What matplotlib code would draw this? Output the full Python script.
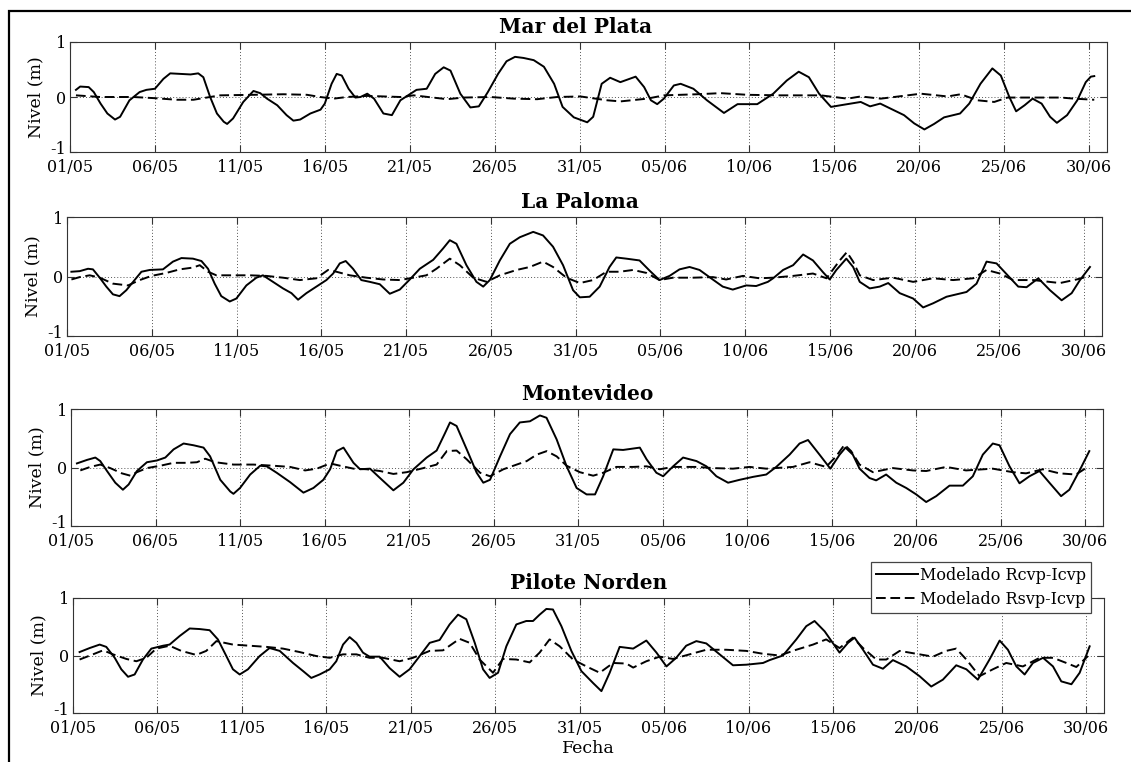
import matplotlib
matplotlib.use("Agg")
import matplotlib.pyplot as plt
import matplotlib.transforms as mtransforms
from matplotlib.patches import Rectangle
from matplotlib.lines import Line2D

plt.rcParams['font.family'] = ['DejaVu Serif']

# ---------------- data (day 0 = 01/05 00:00) ----------------
tick_days = [0, 5, 10, 15, 20, 25, 30, 35, 40, 45, 50, 55, 60]
tick_labels = ['01/05', '06/05', '11/05', '16/05', '21/05', '26/05', '31/05',
               '05/06', '10/06', '15/06', '20/06', '25/06', '30/06']
stations = ['Mar del Plata', 'La Paloma', 'Montevideo', 'Pilote Norden']
series_labels = ['Modelado Rcvp-Icvp', 'Modelado Rsvp-Icvp']

# Mar del Plata
mdp_rcvp_dia = [0.35, 0.6, 1.1, 1.4, 1.8, 2.2, 2.65, 2.95, 3.5, 4.1, 4.5, 5.0, 5.5, 5.9, 6.5, 7.1, 7.55, 7.85,
                8.25, 8.65, 9.05, 9.25, 9.6, 10.2, 10.8, 11.2, 11.6, 12.2, 12.75, 13.15, 13.55, 14.15, 14.75,
                15.0, 15.4, 15.7, 16.0, 16.4, 16.8, 17.1, 17.5, 17.9, 18.45, 18.95, 19.45, 19.9, 20.4, 21.0,
                21.5, 22.0, 22.4, 22.98, 23.57, 24.07, 24.6, 25.2, 25.7, 26.2, 26.7, 27.3, 27.9, 28.5, 29.0,
                29.66, 30.45, 30.8, 31.3, 31.8, 32.4, 33.3, 33.8, 34.2, 34.57, 34.96, 35.55, 35.95, 36.7, 37.5,
                38.5, 39.3, 40.46, 41.4, 42.2, 42.9, 43.5, 44.1, 44.8, 45.37, 45.96, 46.55, 47.1, 47.7, 48.5,
                49.1, 49.7, 50.3, 50.87, 51.46, 52.4, 52.94, 53.6, 54.3, 54.8, 55.3, 55.7, 56.2, 56.67, 57.2,
                57.7, 58.1, 58.7, 59.3, 59.8, 60.1, 60.3]
mdp_rcvp_nivel = [0.13, 0.19, 0.18, 0.09, -0.12, -0.30, -0.41, -0.36, -0.06, 0.09, 0.13, 0.15, 0.33, 0.43, 0.42,
                  0.41, 0.43, 0.36, 0.0, -0.30, -0.45, -0.49, -0.39, -0.09, 0.11, 0.07, -0.03, -0.15, -0.33,
                  -0.43, -0.41, -0.30, -0.23, -0.12, 0.24, 0.42, 0.39, 0.15, -0.01, 0.0, 0.06, -0.03, -0.30,
                  -0.33, -0.06, 0.03, 0.13, 0.15, 0.42, 0.54, 0.48, 0.06, -0.19, -0.17, 0.09, 0.42, 0.65, 0.73,
                  0.71, 0.67, 0.55, 0.24, -0.18, -0.37, -0.46, -0.36, 0.24, 0.35, 0.27, 0.37, 0.18, -0.06,
                  -0.13, -0.03, 0.21, 0.24, 0.15, -0.06, -0.29, -0.13, -0.13, 0.06, 0.30, 0.46, 0.36, 0.06,
                  -0.18, -0.15, -0.12, -0.09, -0.17, -0.12, -0.24, -0.33, -0.48, -0.59, -0.49, -0.37, -0.30,
                  -0.12, 0.24, 0.52, 0.39, 0.0, -0.26, -0.15, -0.03, -0.12, -0.36, -0.47, -0.33, -0.06, 0.27,
                  0.37, 0.38]
mdp_rsvp_dia = [0.35, 1.77, 3.73, 4.91, 6.29, 7.27, 8.05, 8.84, 10.8, 12.57, 13.95, 14.73, 15.52, 16.3, 17.5,
                19.45, 20.23, 22.2, 23.18, 24.75, 26.13, 27.5, 28.68, 30.05, 31.62, 32.41, 33.98, 34.97, 36.93,
                38.3, 39.87, 41.84, 42.62, 44.2, 44.98, 45.77, 46.55, 47.73, 48.52, 50.09, 51.66, 52.44, 53.43,
                54.41, 55.19, 56.37, 58.33, 59.12, 60.3]
mdp_rsvp_nivel = [0.03, 0.0, 0.0, -0.02, -0.05, -0.05, -0.01, 0.03, 0.04, 0.05, 0.04, 0.0, -0.03, 0.0, 0.02,
                  0.0, 0.03, -0.04, -0.01, 0.0, -0.03, -0.04, 0.0, 0.01, -0.06, -0.08, -0.03, 0.03, 0.05, 0.07,
                  0.04, 0.03, 0.03, 0.03, 0.0, -0.03, 0.01, -0.03, 0.0, 0.06, 0.01, 0.05, -0.06, -0.09, -0.01,
                  -0.01, -0.01, -0.03, -0.05]

# La Paloma
lp_rcvp_dia = [0.26, 0.75, 1.24, 1.53, 1.93, 2.32, 2.71, 3.1, 3.5, 3.9, 4.39, 4.88, 5.66, 6.25, 6.75, 7.43, 7.93,
               8.32, 8.71, 9.1, 9.6, 9.99, 10.58, 11.17, 11.56, 12.15, 12.74, 13.24, 13.63, 14.12, 14.71, 15.3,
               15.7, 16.09, 16.44, 16.87, 17.36, 17.86, 18.45, 19.04, 19.63, 20.22, 20.81, 21.6, 22.18, 22.58,
               22.97, 23.56, 24.15, 24.55, 24.94, 25.53, 26.12, 26.71, 27.5, 28.08, 28.67, 29.26, 29.85, 30.25,
               30.83, 31.42, 32.0, 32.4, 32.99, 33.77, 34.36, 34.95, 35.54, 36.13, 36.72, 37.31, 38.09, 38.68,
               39.27, 40.06, 40.65, 41.34, 41.65, 42.24, 42.83, 43.42, 44.0, 44.6, 44.99, 45.38, 45.97, 46.37,
               46.76, 47.35, 47.94, 48.44, 49.12, 49.91, 50.5, 51.09, 51.88, 53.06, 53.65, 54.24, 54.83, 55.42,
               56.11, 56.6, 57.29, 57.98, 58.67, 59.26, 59.75, 60.34]
lp_rcvp_nivel = [0.08, 0.09, 0.13, 0.12, -0.02, -0.17, -0.30, -0.33, -0.23, -0.09, 0.08, 0.11, 0.12, 0.25, 0.31,
                 0.30, 0.26, 0.13, -0.12, -0.33, -0.42, -0.37, -0.15, -0.02, 0.02, -0.09, -0.20, -0.28, -0.39,
                 -0.28, -0.17, -0.06, 0.05, 0.22, 0.26, 0.13, -0.06, -0.09, -0.13, -0.29, -0.22, -0.05, 0.13,
                 0.28, 0.47, 0.61, 0.55, 0.19, -0.09, -0.17, -0.06, 0.27, 0.55, 0.66, 0.75, 0.69, 0.50, 0.19,
                 -0.23, -0.35, -0.34, -0.17, 0.16, 0.32, 0.30, 0.27, 0.10, -0.06, 0.01, 0.12, 0.16, 0.11, -0.05,
                 -0.17, -0.22, -0.15, -0.16, -0.09, -0.03, 0.11, 0.19, 0.37, 0.27, 0.07, -0.05, 0.11, 0.30, 0.16,
                 -0.09, -0.20, -0.17, -0.11, -0.28, -0.37, -0.52, -0.45, -0.34, -0.26, -0.12, 0.25, 0.22, 0.04,
                 -0.17, -0.18, -0.03, -0.23, -0.40, -0.28, -0.06, 0.16]
lp_rsvp_dia = [0.26, 0.75, 1.34, 1.93, 2.71, 3.6, 4.29, 4.98, 5.86, 6.65, 7.43, 7.83, 8.32, 8.81, 9.79, 10.78,
               11.76, 12.74, 13.73, 14.71, 15.4, 15.89, 16.68, 17.66, 18.64, 19.63, 20.42, 21.2, 21.79, 22.58,
               23.17, 23.96, 24.75, 25.53, 26.52, 27.3, 28.08, 28.67, 29.46, 30.25, 31.03, 31.82, 32.6, 33.39,
               34.18, 34.95, 35.74, 36.92, 38.1, 38.88, 39.87, 40.85, 41.65, 42.83, 44.0, 44.8, 45.58, 46.0,
               46.37, 46.76, 47.55, 48.73, 49.91, 51.09, 52.27, 53.45, 54.24, 55.03, 55.81, 56.99, 58.57, 59.55,
               60.34]
lp_rsvp_nivel = [-0.05, -0.01, 0.02, -0.02, -0.12, -0.15, -0.06, 0.01, 0.06, 0.12, 0.15, 0.19, 0.08, 0.02, 0.02,
                 0.02, 0.01, -0.02, -0.06, -0.03, 0.11, 0.08, 0.02, -0.02, -0.05, -0.06, -0.02, 0.02, 0.13, 0.30,
                 0.19, -0.02, -0.09, 0.02, 0.11, 0.16, 0.25, 0.16, -0.02, -0.11, -0.06, 0.08, 0.08, 0.11, 0.06,
                 -0.06, -0.02, -0.02, -0.01, -0.05, 0.01, -0.03, -0.02, 0.01, 0.05, -0.03, 0.27, 0.41, 0.25, 0.02,
                 -0.06, -0.02, -0.09, -0.03, -0.06, -0.03, 0.11, 0.05, -0.06, -0.06, -0.11, -0.05, 0.01]

# Montevideo
mv_rcvp_dia = [0.35, 0.95, 1.44, 1.73, 2.13, 2.62, 3.07, 3.41, 3.9, 4.49, 5.08, 5.58, 6.07, 6.66, 7.25, 7.84, 8.23,
               8.83, 9.42, 9.61, 10.0, 10.6, 11.19, 11.58, 12.17, 12.96, 13.75, 14.34, 14.93, 15.33, 15.72, 16.12,
               16.71, 17.1, 17.69, 18.28, 19.07, 19.66, 20.26, 21.04, 21.63, 22.13, 22.42, 22.81, 23.41, 24.0,
               24.39, 24.79, 25.38, 25.97, 26.55, 27.15, 27.74, 28.13, 28.73, 29.32, 29.91, 30.5, 31.0, 31.48,
               32.08, 32.66, 33.65, 34.05, 34.63, 35.03, 35.62, 36.21, 37.0, 37.59, 38.18, 38.87, 39.56, 40.35,
               41.13, 41.72, 42.51, 43.1, 43.6, 44.28, 44.92, 45.47, 45.82, 46.25, 46.65, 47.24, 47.63, 48.22,
               48.82, 49.41, 50.0, 50.59, 51.18, 51.97, 52.76, 53.35, 53.94, 54.53, 54.93, 55.52, 56.11, 56.7,
               57.29, 57.88, 58.57, 59.06, 59.65, 60.24]
mv_rcvp_nivel = [0.07, 0.13, 0.17, 0.11, -0.06, -0.26, -0.38, -0.29, -0.06, 0.09, 0.12, 0.17, 0.31, 0.41, 0.38,
                 0.34, 0.19, -0.21, -0.41, -0.45, -0.35, -0.12, 0.03, 0.02, -0.09, -0.25, -0.43, -0.35, -0.21,
                 -0.03, 0.28, 0.34, 0.08, -0.03, -0.02, -0.18, -0.39, -0.26, -0.03, 0.17, 0.29, 0.59, 0.77, 0.71,
                 0.31, -0.09, -0.26, -0.21, 0.19, 0.57, 0.77, 0.79, 0.89, 0.85, 0.48, 0.02, -0.35, -0.46, -0.46,
                 -0.15, 0.31, 0.30, 0.34, 0.14, -0.09, -0.15, 0.02, 0.17, 0.11, 0.02, -0.15, -0.26, -0.21, -0.16,
                 -0.12, 0.01, 0.22, 0.41, 0.47, 0.22, -0.02, 0.22, 0.34, 0.22, -0.02, -0.18, -0.22, -0.12, -0.26,
                 -0.35, -0.46, -0.59, -0.49, -0.31, -0.31, -0.15, 0.22, 0.41, 0.38, 0.02, -0.27, -0.15, -0.06,
                 -0.26, -0.49, -0.38, -0.06, 0.28]
mv_rsvp_dia = [0.55, 1.14, 1.73, 2.32, 3.01, 3.51, 3.9, 4.49, 5.28, 6.07, 6.86, 7.45, 7.94, 8.53, 9.61, 10.8, 11.98,
               12.96, 13.85, 14.54, 15.33, 15.92, 16.71, 17.49, 18.28, 19.07, 19.86, 20.85, 21.63, 22.23, 22.81,
               23.41, 24.2, 24.79, 25.58, 26.17, 26.96, 27.55, 28.14, 28.73, 29.32, 30.1, 30.89, 31.48, 32.27,
               33.26, 34.05, 34.83, 35.62, 37.0, 37.98, 39.16, 40.15, 41.13, 42.71, 43.69, 44.67, 45.26, 45.76,
               46.15, 46.65, 47.44, 48.62, 49.8, 50.59, 51.77, 52.95, 54.53, 55.71, 56.5, 57.49, 58.47, 59.45,
               60.04]
mv_rsvp_nivel = [-0.05, 0.01, 0.05, -0.01, -0.10, -0.14, -0.08, -0.01, 0.03, 0.08, 0.08, 0.09, 0.15, 0.09, 0.05,
                 0.05, 0.03, 0.01, -0.05, -0.02, 0.07, 0.03, -0.02, -0.03, -0.06, -0.11, -0.08, -0.01, 0.05, 0.28,
                 0.29, 0.14, -0.09, -0.15, -0.03, 0.03, 0.11, 0.22, 0.28, 0.19, 0.03, -0.08, -0.14, -0.09, 0.01,
                 0.01, 0.02, -0.03, 0.01, 0.01, -0.01, -0.02, 0.01, -0.02, 0.01, 0.09, 0.01, 0.19, 0.39, 0.28,
                 0.05, -0.08, -0.01, -0.05, -0.06, 0.01, -0.05, -0.02, -0.08, -0.10, -0.03, -0.10, -0.12, -0.01]

# Pilote Norden
pn_rcvp_dia = [0.39, 0.99, 1.58, 1.97, 2.47, 2.86, 3.26, 3.65, 4.14, 4.64, 5.33, 5.72, 6.32, 6.91, 7.5, 8.09, 8.58,
               9.08, 9.47, 9.87, 10.36, 11.05, 11.64, 12.24, 13.03, 13.62, 14.11, 14.6, 15.2, 15.59, 15.99, 16.38,
               16.78, 17.17, 17.56, 18.16, 18.75, 19.34, 19.93, 20.53, 21.12, 21.71, 22.3, 22.8, 23.29, 23.79,
               24.28, 24.67, 25.17, 25.66, 26.25, 26.84, 27.24, 27.63, 28.03, 28.42, 28.92, 29.51, 30.1, 30.8,
               31.29, 31.78, 32.37, 33.17, 33.95, 34.55, 35.14, 35.72, 36.31, 36.91, 37.5, 38.29, 39.08, 39.87,
               40.86, 41.25, 42.04, 42.83, 43.42, 43.91, 44.51, 45.39, 45.89, 46.28, 46.78, 47.37, 47.96, 48.55,
               49.34, 50.13, 50.82, 51.51, 52.3, 52.9, 53.58, 54.27, 54.87, 55.36, 55.86, 56.35, 56.84, 57.44,
               58.03, 58.52, 59.12, 59.61, 60.2]
pn_rcvp_nivel = [0.06, 0.13, 0.19, 0.15, -0.04, -0.24, -0.37, -0.33, -0.07, 0.12, 0.17, 0.19, 0.34, 0.47, 0.46,
                 0.44, 0.28, -0.01, -0.24, -0.33, -0.24, -0.01, 0.13, 0.08, -0.13, -0.27, -0.39, -0.33, -0.24,
                 -0.10, 0.19, 0.32, 0.22, 0.05, -0.02, -0.02, -0.22, -0.37, -0.24, -0.01, 0.22, 0.27, 0.54, 0.71,
                 0.63, 0.22, -0.24, -0.39, -0.30, 0.16, 0.54, 0.60, 0.60, 0.71, 0.81, 0.80, 0.51, 0.08, -0.27,
                 -0.48, -0.62, -0.30, 0.15, 0.12, 0.26, 0.05, -0.19, -0.04, 0.17, 0.25, 0.21, 0.02, -0.17, -0.16,
                 -0.13, -0.08, 0.0, 0.28, 0.51, 0.60, 0.42, 0.05, 0.22, 0.31, 0.10, -0.16, -0.23, -0.08, -0.19,
                 -0.36, -0.54, -0.42, -0.17, -0.24, -0.42, -0.07, 0.26, 0.10, -0.19, -0.33, -0.13, -0.04, -0.19,
                 -0.45, -0.50, -0.30, 0.16]
pn_rsvp_dia = [0.39, 1.18, 1.78, 2.37, 3.16, 3.75, 4.34, 4.93, 5.72, 6.41, 7.3, 7.89, 8.49, 9.47, 10.46, 11.45,
               12.43, 13.42, 14.41, 15.2, 15.99, 16.78, 17.56, 18.35, 19.34, 20.13, 21.12, 21.91, 22.89, 23.49,
               24.08, 24.87, 25.46, 26.25, 27.04, 27.63, 28.22, 28.82, 29.61, 30.4, 31.19, 31.98, 32.77, 33.17,
               33.95, 34.74, 35.53, 36.51, 37.5, 38.68, 39.87, 40.86, 41.84, 42.83, 43.82, 44.6, 45.39, 46.18,
               46.78, 47.57, 48.16, 48.95, 50.13, 50.92, 51.7, 52.3, 52.9, 53.68, 54.47, 55.26, 56.25, 57.24,
               58.03, 58.82, 59.41, 60.1]
pn_rsvp_nivel = [-0.07, 0.02, 0.09, 0.02, -0.06, -0.10, -0.04, 0.12, 0.17, 0.08, 0.01, 0.08, 0.25, 0.19, 0.17,
                 0.15, 0.12, 0.06, -0.01, -0.04, 0.02, 0.02, -0.04, -0.04, -0.10, -0.04, 0.08, 0.09, 0.29, 0.22,
                 -0.07, -0.30, -0.06, -0.07, -0.12, 0.05, 0.28, 0.16, -0.07, -0.19, -0.30, -0.13, -0.14, -0.21,
                 -0.10, -0.02, -0.06, 0.02, 0.10, 0.10, 0.08, 0.03, 0.0, 0.10, 0.19, 0.28, 0.13, 0.31, 0.13,
                 -0.07, -0.07, 0.08, 0.02, -0.02, 0.08, 0.12, -0.07, -0.36, -0.24, -0.13, -0.19, -0.04, -0.04,
                 -0.13, -0.20, -0.01]

data = [
    (mdp_rcvp_dia, mdp_rcvp_nivel, mdp_rsvp_dia, mdp_rsvp_nivel),
    (lp_rcvp_dia, lp_rcvp_nivel, lp_rsvp_dia, lp_rsvp_nivel),
    (mv_rcvp_dia, mv_rcvp_nivel, mv_rsvp_dia, mv_rsvp_nivel),
    (pn_rcvp_dia, pn_rcvp_nivel, pn_rsvp_dia, pn_rsvp_nivel),
]

# ---------------- figure ----------------
W, H = 1131, 762
fig = plt.figure(figsize=(W / 100, H / 100), dpi=100)
fig.patch.set_facecolor('white')

# outer frame (clipped at right/bottom like the original)
fig.patches.append(Rectangle((9 / W, -0.1), 1.2, 1 - 11 / H + 0.1, transform=fig.transFigure,
                             fill=False, edgecolor='black', linewidth=1.6, zorder=0))

# panel boxes in pixels: left, right, top, bottom
boxes = [(70, 1107, 42, 152), (67, 1102, 217, 336), (71, 1103, 409, 526), (73, 1104, 598, 713)]
title_x = [0.4875, 0.496, 0.5, 0.5]

dash = (5, 2.4)
lift = mtransforms.ScaledTranslation(0, 3 / 72, fig.dpi_scale_trans)
for i, (name, box, d) in enumerate(zip(stations, boxes, data)):
    L, R, T, B = box
    ax = fig.add_axes([L / W, 1 - B / H, (R - L) / W, (B - T) / H])
    ax.plot(d[0], d[1], color='black', lw=1.4, solid_joinstyle='round', zorder=3)
    ax.plot(d[2], d[3], color='black', lw=1.4, linestyle=(0, dash), zorder=3)
    ax.set_xlim(0, 61.05)
    ax.set_ylim(-1, 1)
    ax.set_xticks(tick_days)
    ax.set_xticklabels(tick_labels)
    ax.set_yticks([-1, 0, 1])
    ax.set_yticklabels(['-1', '0', '1'])
    ax.grid(True, linestyle=(0, (1, 2.2)), color='#555555', linewidth=0.7)
    ax.tick_params(direction='in', length=5, width=0.8, top=True, right=True,
                   labelsize=11.5, color='#333333')
    ax.tick_params(axis='x', pad=5)
    ax.tick_params(axis='y', pad=3)
    lbl = ax.get_yticklabels()[0]
    lbl.set_transform(lbl.get_transform() + lift)
    for s in ax.spines.values():
        s.set_color('#333333')
        s.set_linewidth(0.8)
    ax.set_title(name, fontsize=14.5, fontweight='bold', pad=6.5, x=title_x[i])
    ax.set_ylabel('Nivel (m)', fontsize=12.5)
    ax.yaxis.set_label_coords(-0.025, 0.5)
    if i == 3:
        ax.set_xlabel('Fecha', fontsize=12.5)
        ax.xaxis.set_label_coords(0.5, -0.235)

handles = [Line2D([], [], color='black', lw=1.4),
           Line2D([], [], color='black', lw=1.4, linestyle=(0, dash))]
leg = fig.legend(handles, series_labels, loc='upper right', bbox_to_anchor=(1091 / W, 1 - 562 / H),
                 fontsize=11.5, frameon=True, fancybox=False, framealpha=1, edgecolor='#444444',
                 handlelength=2.6, handletextpad=0.15, borderpad=0.3, labelspacing=0.45,
                 borderaxespad=0)
leg.get_frame().set_linewidth(0.9)

fig.savefig('out.png', dpi=100)
